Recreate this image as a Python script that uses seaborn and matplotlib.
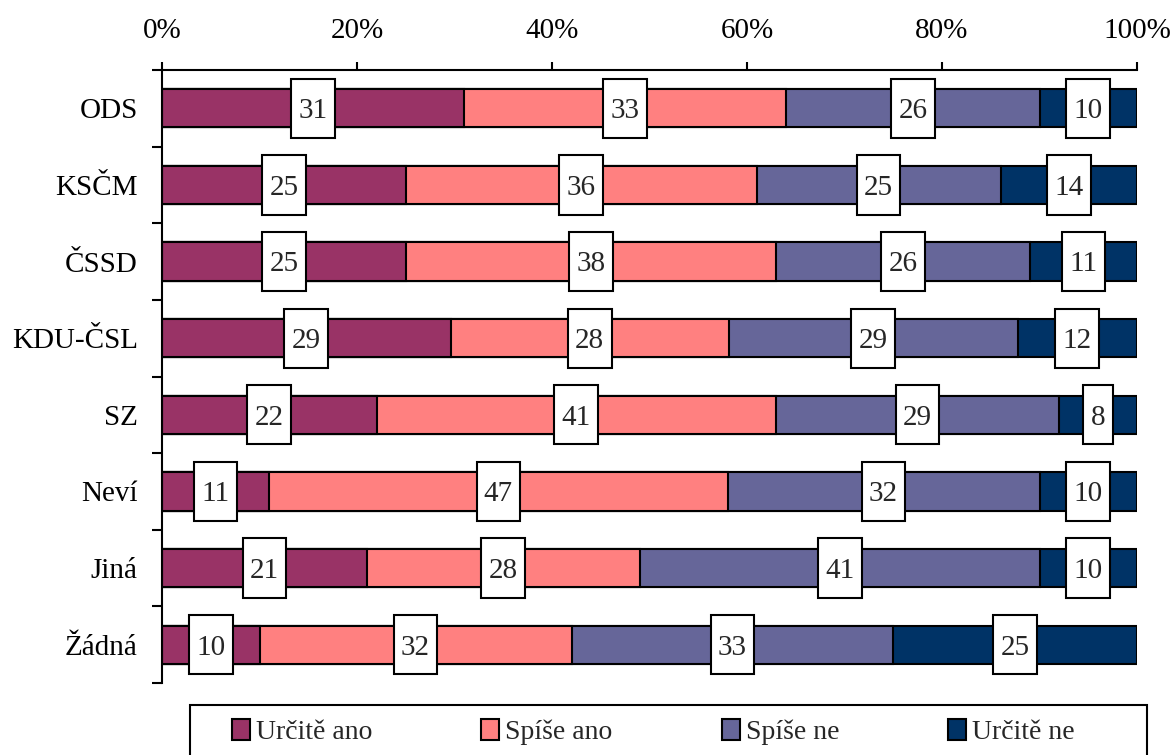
import numpy as np
import pandas as pd
import matplotlib
matplotlib.use("Agg")
import matplotlib.pyplot as plt
import seaborn as sns
from matplotlib.path import Path
from matplotlib.patches import Patch, Rectangle

categories = ["ODS", "KSČM", "ČSSD", "KDU-ČSL", "SZ", "Neví", "Jiná", "Žádná"]
urcite_ano = [31, 25, 25, 29, 22, 11, 21, 10]
spise_ano = [33, 36, 38, 28, 41, 47, 28, 32]
spise_ne = [26, 25, 26, 29, 29, 32, 41, 33]
urcite_ne = [10, 14, 11, 12, 8, 10, 10, 25]
series_names = ["Určitě ano", "Spíše ano", "Spíše ne", "Určitě ne"]
colors = ["#993366", "#FF8080", "#666699", "#003366"]
tick_values = [0, 20, 40, 60, 80, 100]
tick_labels = ["0%", "20%", "40%", "60%", "80%", "100%"]

sns.set_theme(style="white")
plt.rcParams["font.family"] = ["Liberation Serif", "DejaVu Serif"]

W, H = 1173, 755
FS = 21
fig = plt.figure(figsize=(W / 100, H / 100), dpi=100)
ax = fig.add_axes([162 / W, 1 - 683 / H, 975 / W, 613 / H])

vals = np.array([urcite_ano, spise_ano, spise_ne, urcite_ne], float)
shares = vals / vals.sum(0) * 100
cum = shares.cumsum(0)
left = cum - shares

for k in range(3, -1, -1):
    df = pd.DataFrame({"cat": categories, "val": cum[k]})
    sns.barplot(data=df, x="val", y="cat", orient="h", color=colors[k],
                saturation=1, width=0.5, edgecolor="black", linewidth=1.5,
                ax=ax, errorbar=None)


def tallbox(x0, y0, width, height, mutation_size):
    px = 0.25 * mutation_size
    pyb = 0.47 * mutation_size
    pyt = 0.67 * mutation_size
    x1 = x0 + width + px
    y1 = y0 + height + pyt
    x0 -= px
    y0 -= pyb
    return Path([(x0, y0), (x1, y0), (x1, y1), (x0, y1), (x0, y0)], closed=True)


for k in range(4):
    for i in range(len(categories)):
        ax.annotate(str(int(vals[k, i])),
                    xy=(left[k, i] + shares[k, i] / 2, i),
                    xytext=(0, -2.1), textcoords="offset points",
                    ha="center", va="center", fontsize=FS, zorder=5,
                    bbox=dict(boxstyle=tallbox, fc="white", ec="black", lw=1.5))

ax.set_xlim(0, 100)
ax.set_ylim(7.5, -0.5)
ax.set_xlabel("")
ax.set_ylabel("")
ax.xaxis.tick_top()
ax.set_xticks(tick_values, tick_labels)
ax.tick_params(axis="x", direction="out", length=6, width=1.5, pad=13,
               labelsize=FS, colors="black", top=True, bottom=False)
ax.set_yticks(np.arange(-0.5, 8, 1))
ax.set_yticklabels([])
ax.set_yticks(range(len(categories)), categories, minor=True)
ax.tick_params(axis="y", which="major", direction="out", length=7, width=1.5,
               left=True, colors="black")
ax.tick_params(axis="y", which="minor", length=0, pad=17.5, labelsize=FS,
               left=True, colors="black")
for s in ["right", "bottom"]:
    ax.spines[s].set_visible(False)
for s in ["top", "left"]:
    ax.spines[s].set_visible(True)
    ax.spines[s].set_color("black")
    ax.spines[s].set_linewidth(1.5)
ax.grid(False)

# legend frame
fig.patches.append(Rectangle((190 / W, -0.05), (1147 - 190) / W, 1 - 705 / H + 0.05,
                             transform=fig.transFigure, fill=False,
                             edgecolor="black", linewidth=1.5))
handles = [Patch(facecolor=c, edgecolor="black", lw=1.5) for c in colors]
LFS = 20
fpx = LFS * 100 / 72
leg = fig.legend(handles, series_names, loc="center left",
                 bbox_to_anchor=(232 / W, 1 - 732 / H),
                 ncol=4, fontsize=LFS, frameon=False,
                 handlelength=18 / fpx, handleheight=21 / fpx,
                 handletextpad=6 / fpx, columnspacing=109 / fpx,
                 borderpad=0, borderaxespad=0)

fig.savefig("out.png", dpi=100)
